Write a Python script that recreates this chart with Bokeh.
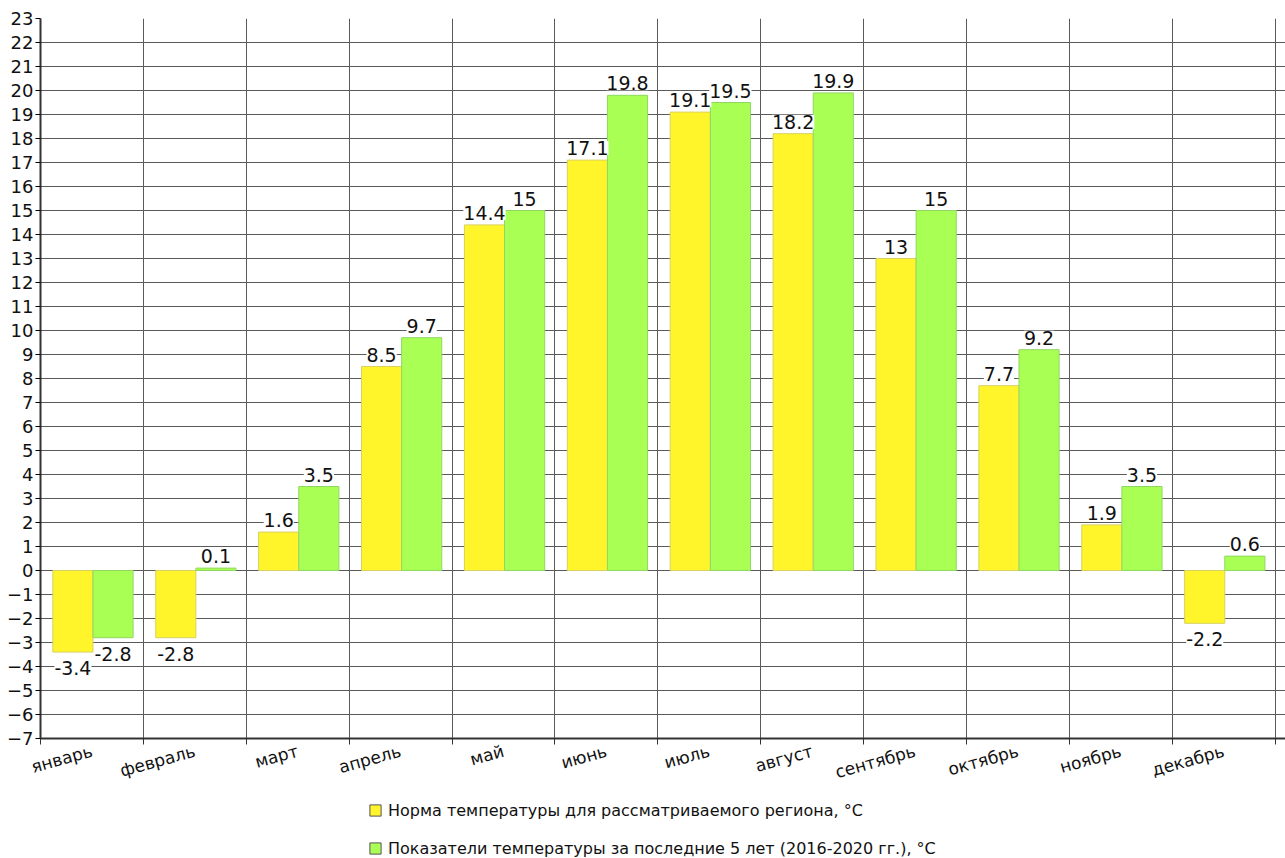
import numpy as np
from bokeh.plotting import figure
from bokeh.layouts import column
from bokeh.models import (ColumnDataSource, Range1d, FixedTicker, LabelSet,
                          Legend, LegendItem)
from bokeh.core.properties import value
from bokeh.embed import file_html
from bokeh.resources import INLINE

# Monthly temperatures, °C
months = ["январь", "февраль", "март", "апрель", "май", "июнь",
          "июль", "август", "сентябрь", "октябрь", "ноябрь", "декабрь"]
norm = [-3.4, -2.8, 1.6, 8.5, 14.4, 17.1, 19.1, 18.2, 13.0, 7.7, 1.9, -2.2]
recent = [-2.8, 0.1, 3.5, 9.7, 15.0, 19.8, 19.5, 19.9, 15.0, 9.2, 3.5, 0.6]
y_ticks = list(range(-7, 24))

series_names = ["Норма температуры для рассматриваемого региона, °C",
                "Показатели температуры за последние 5 лет (2016-2020 гг.), °C"]
fill_colors = ["#FFF52A", "#AAFF55"]
edge_colors = ["#D8D060", "#8FD860"]

FONT = "DejaVu Sans"
BAR_W = 0.39

p = figure(width=1285, height=800, output_backend="svg",
           toolbar_location=None, x_range=Range1d(0, 12.1),
           y_range=Range1d(min(y_ticks), max(y_ticks)),
           min_border_left=40, min_border_right=0, min_border_top=18,
           min_border_bottom=62)
p.outline_line_color = None
p.background_fill_color = "white"

centers = np.arange(len(months)) + 0.5
for k, (vals, fc, ec) in enumerate(zip([norm, recent], fill_colors, edge_colors)):
    xs = centers + (k - 0.5) * BAR_W + 0.01
    vals = np.array(vals, dtype=float)
    src = ColumnDataSource(dict(
        x=xs, top=vals,
        text=[("%g" % v) for v in vals],
        yoff=np.where(vals >= 0, 5, -9),
        base=np.where(vals >= 0, "bottom", "top"),
    ))
    p.vbar(x="x", top="top", bottom=0, width=BAR_W, source=src,
           fill_color=fc, line_color=ec, line_width=1)
    labels = LabelSet(x="x", y="top", text="text", source=src,
                      y_offset="yoff", text_baseline="base", text_align="center",
                      text_font=value(FONT), text_font_size="19px",
                      text_color="#111111", background_fill_color="white")
    p.add_layout(labels)

# y axis
p.yaxis.ticker = FixedTicker(ticks=y_ticks)
p.yaxis.axis_line_color = "#333333"
p.yaxis.axis_line_width = 2
p.yaxis.major_tick_out = 5
p.yaxis.major_tick_in = 0
p.yaxis.minor_tick_line_color = None
p.yaxis.major_label_standoff = 2
p.yaxis.major_label_text_font = FONT
p.yaxis.major_label_text_font_size = "18px"
p.yaxis.major_label_text_color = "#111111"

# x axis: month names at category centres, marks at category boundaries
bounds = list(range(len(months) + 1))
p.xaxis.ticker = FixedTicker(ticks=list(centers), minor_ticks=bounds)
p.xaxis.major_label_overrides = {float(c): m for c, m in zip(centers, months)}
p.xaxis.major_tick_line_color = None
p.xaxis.minor_tick_out = 6
p.xaxis.minor_tick_in = 0
p.xaxis.minor_tick_line_color = "#333333"
p.xaxis.axis_line_color = "#333333"
p.xaxis.axis_line_width = 2
p.xaxis.major_label_orientation = 0.27
p.xaxis.major_label_standoff = 6
p.xaxis.major_label_text_font = FONT
p.xaxis.major_label_text_font_size = "17px"
p.xaxis.major_label_text_color = "#111111"

# grid
p.xgrid.ticker = FixedTicker(ticks=bounds)
p.ygrid.ticker = FixedTicker(ticks=y_ticks)
for g in (p.xgrid, p.ygrid):
    g.grid_line_color = "#5a5a5a"
    g.grid_line_width = 1
p.xgrid.level = "underlay"
p.ygrid.level = "underlay"

# legend strip under the chart; swatch glyphs carry no drawable data
lg = figure(width=1285, height=58, output_backend="svg", toolbar_location=None,
            x_range=Range1d(0, 1), y_range=Range1d(0, 1),
            min_border=0, min_border_left=0, min_border_right=0,
            x_axis_type=None, y_axis_type=None)
lg.outline_line_color = None
lg.grid.visible = False
lg.background_fill_color = "white"
lg.border_fill_color = "white"
legend_items = []
for name, fc in zip(series_names, fill_colors):
    r = lg.vbar(x=[0.5], top=[np.nan], bottom=[np.nan], width=0.1,
                fill_color=fc, line_color="#555555", line_width=1)
    legend_items.append(LegendItem(label=name, renderers=[r]))
legend = Legend(items=legend_items, location=(328, 0), orientation="vertical",
                padding=0, spacing=18, glyph_width=14, glyph_height=14,
                label_height=20, label_standoff=6, margin=0,
                label_text_font=FONT, label_text_font_size="16px",
                label_text_color="#111111", border_line_color=None,
                background_fill_alpha=0)
lg.add_layout(legend)

page = column(p, lg, spacing=0)
open("out.html", "w").write(file_html(page, INLINE))
